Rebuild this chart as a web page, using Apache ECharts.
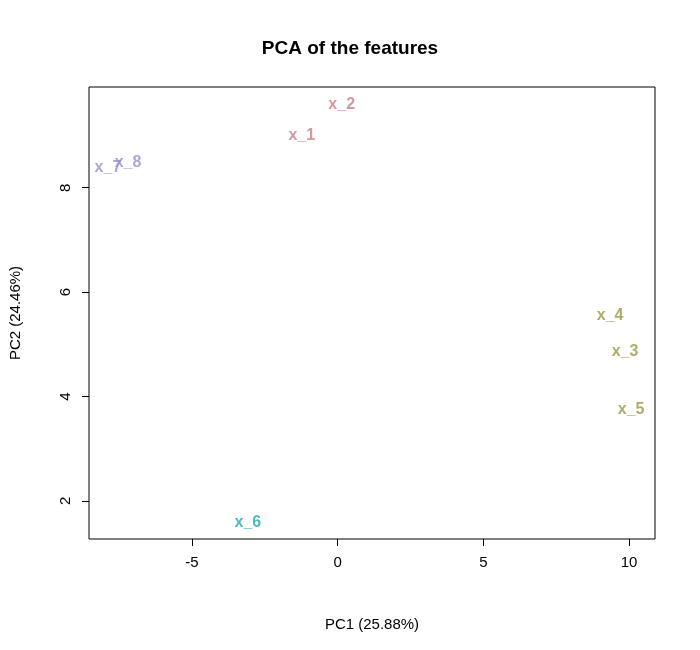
<!DOCTYPE html>
<html><head><meta charset="utf-8">
<script src="https://cdn.jsdelivr.net/npm/echarts@6/dist/echarts.min.js"></script>
<style>html,body{margin:0;background:#fff}#c{width:700px;height:650px}</style>
</head><body><div id="c"></div>
<script>
const labels = ["x_1","x_2","x_3","x_4","x_5","x_6","x_7","x_8"];
const pc1 = [-1.23, 0.14, 9.86, 9.35, 10.07, -3.08, -7.88, -7.19];
const pc2 = [9.00, 9.59, 4.86, 5.55, 3.75, 1.58, 8.38, 8.48];
const colors = ["#CC7A88","#CC7A88","#999944","#999944","#999944","#22AAAA","#9A8FD0","#9A8FD0"];
const xTicks = [-5, 0, 5, 10];
const yTicks = [2, 4, 6, 8];
const F = "Liberation Sans, Arial, sans-serif";
const chart = echarts.init(document.getElementById('c'));
chart.setOption({
  animation:false,
  title:{text:"PCA of the features",left:'center',top:34,textStyle:{fontFamily:F,fontSize:19,fontWeight:'bold',color:'#000'}},
  grid:{left:89,right:45,top:87,bottom:111,show:true,borderColor:'#000',borderWidth:1,backgroundColor:'transparent'},
  xAxis:{type:'value',min:-8.53,max:10.89,splitLine:{show:false},axisLine:{show:false,onZero:false},
    axisTick:{show:true,length:7,customValues:xTicks,lineStyle:{color:'#000'}},
    axisLabel:{customValues:xTicks,color:'#000',fontFamily:F,fontSize:15,margin:16},
    name:"PC1 (25.88%)",nameLocation:'middle',nameGap:78,nameTextStyle:{fontFamily:F,fontSize:15,color:'#000'}},
  yAxis:{type:'value',min:1.27,max:9.93,splitLine:{show:false},axisLine:{show:false,onZero:false},
    axisTick:{show:true,length:7,customValues:yTicks,lineStyle:{color:'#000'}},
    axisLabel:{customValues:yTicks,color:'#000',fontFamily:F,fontSize:15,rotate:90,margin:16},
    name:"PC2 (24.46%)",nameLocation:'middle',nameGap:66,nameRotate:90,nameTextStyle:{fontFamily:F,fontSize:15,color:'#000'}},
  series:[{type:'scatter',symbolSize:1,itemStyle:{color:'transparent'},
    data:labels.map((l,i)=>({value:[pc1[i],pc2[i]],name:l,
      label:{show:true,position:'inside',formatter:l,color:colors[i],fontFamily:F,fontSize:16,fontWeight:'bold'}}))}]
});
</script></body></html>
